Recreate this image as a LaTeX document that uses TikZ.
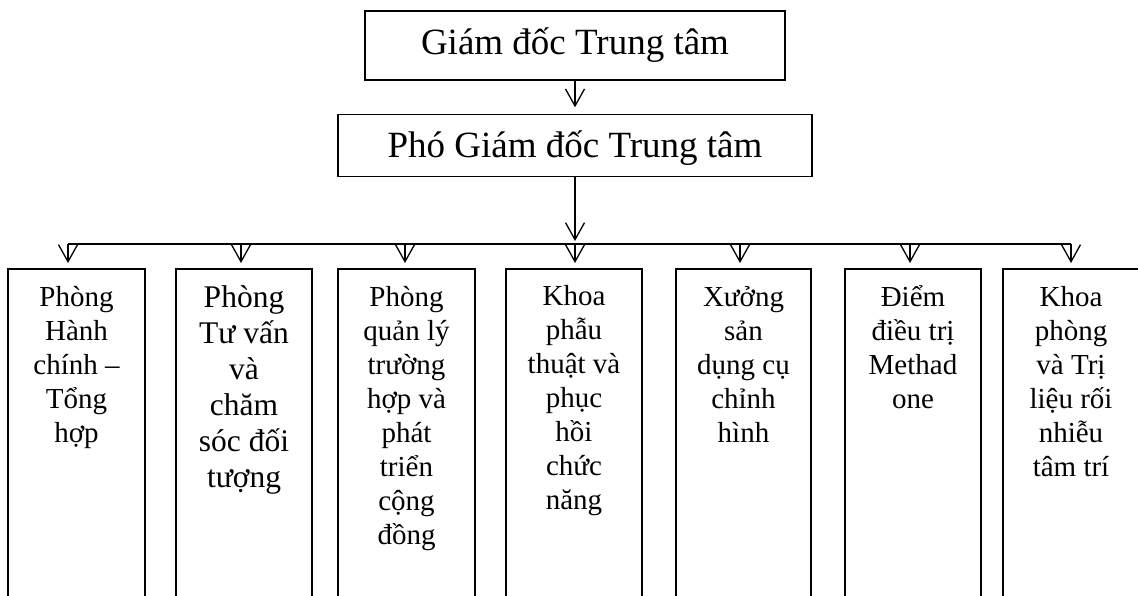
\documentclass[tikz,border=0pt]{standalone}
\usepackage{fontspec}
\setmainfont{Liberation Serif}
\usetikzlibrary{arrows.meta}
\newcommand\firstln{\rule{0pt}{30pt}}
\begin{document}
\begin{tikzpicture}[x=1pt,y=-1pt,
  box/.style={draw, line width=1.3pt, inner sep=0pt, outer sep=0pt},
  unitbox/.style={box, anchor=north west, minimum height=360pt},
  plainline/.style={line width=1.3pt},
  conn/.style={line width=1.3pt, -{Straight Barb[length=17pt,width=19pt,line width=1.3pt]}},
  headtext/.style={anchor=base, inner sep=0pt, font=\fontsize{37}{42}\selectfont},
  unittext/.style={anchor=north, align=center, inner sep=0pt, font=\fontsize{29}{34}\selectfont},
  bigunittext/.style={anchor=north, align=center, inner sep=0pt, font=\fontsize{31.5}{36}\selectfont},
]
\useasboundingbox (0,0) rectangle (1138,596);
\clip (0,0) rectangle (1138,596);

% top boxes
\node[box, minimum width=420pt, minimum height=69pt] (gd) at (575,45.5) {};
\node[headtext] (gdt) at (575,55) {Giám đốc Trung tâm};
\node[box, minimum width=474pt, minimum height=62.4pt] (pho) at (575,145.5) {};
\node[headtext] (phot) at (575,158) {Phó Giám đốc Trung tâm};

% unit boxes
\node[unitbox, minimum width=137pt] (b1) at (8,269) {};
\node[unitbox, minimum width=136pt] (b2) at (176,269) {};
\node[unitbox, minimum width=137pt] (b3) at (338,269) {};
\node[unitbox, minimum width=136pt] (b4) at (506,269) {};
\node[unitbox, minimum width=135pt] (b5) at (676,269) {};
\node[unitbox, minimum width=136pt] (b6) at (845,269) {};
\node[unitbox, minimum width=137pt] (b7) at (1003,269) {};

% unit texts
\node[unittext] (t1) at (76.5,276) {\firstln Phòng\\Hành\\chính –\\Tổng\\hợp};
\node[bigunittext] (t2) at (244,277.7) {\firstln Phòng\\Tư vấn\\và\\chăm\\sóc đối\\tượng};
\node[unittext] (t3) at (406.5,276) {\firstln Phòng\\quản lý\\trường\\hợp và\\phát\\triển\\cộng\\đồng};
\node[unittext] (t4) at (574,275) {\firstln Khoa\\phẫu\\thuật và\\phục\\hồi\\chức\\năng};
\node[unittext] (t5) at (743.5,276) {\firstln Xưởng\\sản\\dụng cụ\\chỉnh\\hình};
\node[unittext] (t6) at (913,276) {\firstln Điểm\\điều trị\\Methad\\one};
\node[unittext] (t7) at (1071,276) {\firstln Khoa\\phòng\\và Trị\\liệu rối\\nhiễu\\tâm trí};

% connectors
\draw[conn, shorten >=7pt] (gd.south) -- (pho.north);
\coordinate (bus) at (575,244);
\coordinate (a1) at (68,244);
\coordinate (a2) at (241,244);
\coordinate (a3) at (405,244);
\coordinate (a4) at (575,244);
\coordinate (a5) at (740,244);
\coordinate (a6) at (910,244);
\coordinate (a7) at (1071,244);
\draw[plainline] (a1) -- (a7);
\draw[conn, shorten >=3pt] (pho.south) -- (bus);
\foreach \i in {1,...,7} {
  \draw[conn, shorten >=6pt] (a\i) -- (a\i |- b\i.north);
}
\end{tikzpicture}
\end{document}
